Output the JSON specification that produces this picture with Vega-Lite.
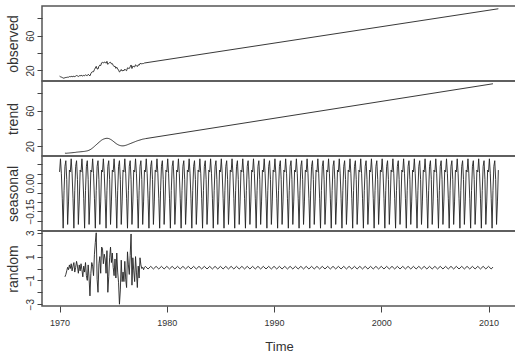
{
"$schema":"https://vega.github.io/schema/vega-lite/v6.json",
"padding":{"left":5,"top":5,"right":0,"bottom":0},
"background":"white",
"spacing":0,
"bounds":"flush",
"config":{
 "view":{"stroke":"#555","strokeWidth":1.5},
 "axis":{"grid":false,"domain":false,"tickColor":"#444","labelColor":"#333","titleColor":"#333","labelFont":"Liberation Sans","titleFont":"Liberation Sans","titleFontWeight":"normal","labelOverlap":false},
 "line":{"color":"#222","strokeWidth":0.9}
},
"datasets":{
"obs":[{"t":1970,"v":13.4},{"t":1970.083,"v":12.7},{"t":1970.167,"v":12.3},{"t":1970.25,"v":11.8},{"t":1970.333,"v":11.2},{"t":1970.417,"v":11.0},{"t":1970.5,"v":11.7},{"t":1970.583,"v":11.8},{"t":1970.667,"v":12.0},{"t":1970.75,"v":12.2},{"t":1970.833,"v":12.2},{"t":1970.917,"v":12.9},
{"t":1971,"v":12.7},{"t":1971.083,"v":13.2},{"t":1971.167,"v":12.7},{"t":1971.25,"v":13.0},{"t":1971.333,"v":13.3},{"t":1971.417,"v":12.8},{"t":1971.5,"v":13.4},{"t":1971.583,"v":14.1},{"t":1971.667,"v":13.7},{"t":1971.75,"v":13.0},{"t":1971.833,"v":13.9},{"t":1971.917,"v":13.7},
{"t":1972,"v":14.4},{"t":1972.083,"v":14.0},{"t":1972.167,"v":13.5},{"t":1972.25,"v":14.3},{"t":1972.333,"v":13.8},{"t":1972.417,"v":15.0},{"t":1972.5,"v":14.2},{"t":1972.583,"v":14.0},{"t":1972.667,"v":15.5},{"t":1972.75,"v":14.6},{"t":1972.833,"v":13.7},{"t":1972.917,"v":16.4},
{"t":1973,"v":18.0},{"t":1973.083,"v":18.5},{"t":1973.167,"v":18.5},{"t":1973.25,"v":21.0},{"t":1973.333,"v":22.8},{"t":1973.417,"v":24.7},{"t":1973.5,"v":21.8},{"t":1973.583,"v":21.6},{"t":1973.667,"v":24.8},{"t":1973.75,"v":26.1},{"t":1973.833,"v":25.6},{"t":1973.917,"v":28.8},
{"t":1974,"v":29.3},{"t":1974.083,"v":28.5},{"t":1974.167,"v":29.7},{"t":1974.25,"v":29.4},{"t":1974.333,"v":28.3},{"t":1974.417,"v":30.5},{"t":1974.5,"v":27.0},{"t":1974.583,"v":28.1},{"t":1974.667,"v":29.2},{"t":1974.75,"v":29.4},{"t":1974.833,"v":27.6},{"t":1974.917,"v":27.9},
{"t":1975,"v":25.9},{"t":1975.083,"v":24.4},{"t":1975.167,"v":25.0},{"t":1975.25,"v":22.4},{"t":1975.333,"v":23.7},{"t":1975.417,"v":21.7},{"t":1975.5,"v":20.4},{"t":1975.583,"v":18.2},{"t":1975.667,"v":19.0},{"t":1975.75,"v":21.1},{"t":1975.833,"v":19.3},{"t":1975.917,"v":20.3},
{"t":1976,"v":19.6},{"t":1976.083,"v":21.5},{"t":1976.167,"v":20.3},{"t":1976.25,"v":19.7},{"t":1976.333,"v":23.0},{"t":1976.417,"v":22.5},{"t":1976.5,"v":22.2},{"t":1976.583,"v":24.2},{"t":1976.667,"v":26.3},{"t":1976.75,"v":22.2},{"t":1976.833,"v":25.0},{"t":1976.917,"v":24.5},
{"t":1977,"v":24.0},{"t":1977.083,"v":26.5},{"t":1977.167,"v":25.6},{"t":1977.25,"v":24.5},{"t":1977.333,"v":26.5},{"t":1977.417,"v":26.0},{"t":1977.5,"v":28.1},{"t":1977.583,"v":27.8},{"t":1977.667,"v":27.7},{"t":1977.75,"v":27.9},{"t":1977.833,"v":28.0},{"t":1977.917,"v":28.6},
{"t":2010.917,"v":91.2}],
"trend":[{"t":1970.5,"v":12.3},{"t":1970.583,"v":12.2},{"t":1970.667,"v":12.2},{"t":1970.75,"v":12.3},{"t":1970.833,"v":12.4},{"t":1970.917,"v":12.5},
{"t":1971,"v":12.6},{"t":1971.083,"v":12.7},{"t":1971.167,"v":12.8},{"t":1971.25,"v":12.9},{"t":1971.333,"v":13.0},{"t":1971.417,"v":13.1},{"t":1971.5,"v":13.2},{"t":1971.583,"v":13.4},{"t":1971.667,"v":13.5},{"t":1971.75,"v":13.6},{"t":1971.833,"v":13.7},{"t":1971.917,"v":13.8},
{"t":1972,"v":13.9},{"t":1972.083,"v":14.0},{"t":1972.167,"v":14.1},{"t":1972.25,"v":14.2},{"t":1972.333,"v":14.3},{"t":1972.417,"v":14.5},{"t":1972.5,"v":14.7},{"t":1972.583,"v":14.9},{"t":1972.667,"v":15.2},{"t":1972.75,"v":15.6},{"t":1972.833,"v":16.1},{"t":1972.917,"v":16.7},
{"t":1973,"v":17.4},{"t":1973.083,"v":18.2},{"t":1973.167,"v":19.0},{"t":1973.25,"v":19.9},{"t":1973.333,"v":20.8},{"t":1973.417,"v":21.7},{"t":1973.5,"v":22.6},{"t":1973.583,"v":23.5},{"t":1973.667,"v":24.4},{"t":1973.75,"v":25.3},{"t":1973.833,"v":26.1},{"t":1973.917,"v":26.9},
{"t":1974,"v":27.5},{"t":1974.083,"v":28.0},{"t":1974.167,"v":28.4},{"t":1974.25,"v":28.7},{"t":1974.333,"v":28.9},{"t":1974.417,"v":29.0},{"t":1974.5,"v":28.9},{"t":1974.583,"v":28.7},{"t":1974.667,"v":28.3},{"t":1974.75,"v":27.8},{"t":1974.833,"v":27.2},{"t":1974.917,"v":26.5},
{"t":1975,"v":25.7},{"t":1975.083,"v":24.9},{"t":1975.167,"v":24.1},{"t":1975.25,"v":23.3},{"t":1975.333,"v":22.6},{"t":1975.417,"v":22.0},{"t":1975.5,"v":21.5},{"t":1975.583,"v":21.1},{"t":1975.667,"v":20.8},{"t":1975.75,"v":20.6},{"t":1975.833,"v":20.5},{"t":1975.917,"v":20.5},
{"t":1976,"v":20.6},{"t":1976.083,"v":20.8},{"t":1976.167,"v":21.1},{"t":1976.25,"v":21.4},{"t":1976.333,"v":21.8},{"t":1976.417,"v":22.2},{"t":1976.5,"v":22.6},{"t":1976.583,"v":23.0},{"t":1976.667,"v":23.4},{"t":1976.75,"v":23.8},{"t":1976.833,"v":24.2},{"t":1976.917,"v":24.6},
{"t":1977,"v":25.0},{"t":1977.083,"v":25.4},{"t":1977.167,"v":25.8},{"t":1977.25,"v":26.2},{"t":1977.333,"v":26.5},{"t":1977.417,"v":26.8},{"t":1977.5,"v":27.1},{"t":1977.583,"v":27.4},{"t":1977.667,"v":27.7},{"t":1977.75,"v":28.0},{"t":1977.833,"v":28.2},{"t":1977.917,"v":28.4},
{"t":1978,"v":28.6},{"t":2010.417,"v":90.3}],
"seas":[
{"t":1970,"v":0.06},{"t":1970.083,"v":0.13},{"t":1970.167,"v":0.05},{"t":1970.25,"v":-0.08},{"t":1970.333,"v":-0.24},{"t":1970.417,"v":-0.04},{"t":1970.5,"v":0.09},{"t":1970.583,"v":0.12},{"t":1970.667,"v":0.02},{"t":1970.75,"v":-0.22},{"t":1970.833,"v":-0.1},{"t":1970.917,"v":0.07},
{"t":1971,"v":0.06},{"t":1971.083,"v":0.13},{"t":1971.167,"v":0.05},{"t":1971.25,"v":-0.08},{"t":1971.333,"v":-0.24},{"t":1971.417,"v":-0.04},{"t":1971.5,"v":0.09},{"t":1971.583,"v":0.12},{"t":1971.667,"v":0.02},{"t":1971.75,"v":-0.22},{"t":1971.833,"v":-0.1},{"t":1971.917,"v":0.07},
{"t":1972,"v":0.06},{"t":1972.083,"v":0.13},{"t":1972.167,"v":0.05},{"t":1972.25,"v":-0.08},{"t":1972.333,"v":-0.24},{"t":1972.417,"v":-0.04},{"t":1972.5,"v":0.09},{"t":1972.583,"v":0.12},{"t":1972.667,"v":0.02},{"t":1972.75,"v":-0.22},{"t":1972.833,"v":-0.1},{"t":1972.917,"v":0.07},
{"t":1973,"v":0.06},{"t":1973.083,"v":0.13},{"t":1973.167,"v":0.05},{"t":1973.25,"v":-0.08},{"t":1973.333,"v":-0.24},{"t":1973.417,"v":-0.04},{"t":1973.5,"v":0.09},{"t":1973.583,"v":0.12},{"t":1973.667,"v":0.02},{"t":1973.75,"v":-0.22},{"t":1973.833,"v":-0.1},{"t":1973.917,"v":0.07},
{"t":1974,"v":0.06},{"t":1974.083,"v":0.13},{"t":1974.167,"v":0.05},{"t":1974.25,"v":-0.08},{"t":1974.333,"v":-0.24},{"t":1974.417,"v":-0.04},{"t":1974.5,"v":0.09},{"t":1974.583,"v":0.12},{"t":1974.667,"v":0.02},{"t":1974.75,"v":-0.22},{"t":1974.833,"v":-0.1},{"t":1974.917,"v":0.07},
{"t":1975,"v":0.06},{"t":1975.083,"v":0.13},{"t":1975.167,"v":0.05},{"t":1975.25,"v":-0.08},{"t":1975.333,"v":-0.24},{"t":1975.417,"v":-0.04},{"t":1975.5,"v":0.09},{"t":1975.583,"v":0.12},{"t":1975.667,"v":0.02},{"t":1975.75,"v":-0.22},{"t":1975.833,"v":-0.1},{"t":1975.917,"v":0.07},
{"t":1976,"v":0.06},{"t":1976.083,"v":0.13},{"t":1976.167,"v":0.05},{"t":1976.25,"v":-0.08},{"t":1976.333,"v":-0.24},{"t":1976.417,"v":-0.04},{"t":1976.5,"v":0.09},{"t":1976.583,"v":0.12},{"t":1976.667,"v":0.02},{"t":1976.75,"v":-0.22},{"t":1976.833,"v":-0.1},{"t":1976.917,"v":0.07},
{"t":1977,"v":0.06},{"t":1977.083,"v":0.13},{"t":1977.167,"v":0.05},{"t":1977.25,"v":-0.08},{"t":1977.333,"v":-0.24},{"t":1977.417,"v":-0.04},{"t":1977.5,"v":0.09},{"t":1977.583,"v":0.12},{"t":1977.667,"v":0.02},{"t":1977.75,"v":-0.22},{"t":1977.833,"v":-0.1},{"t":1977.917,"v":0.07},
{"t":1978,"v":0.06},{"t":1978.083,"v":0.13},{"t":1978.167,"v":0.05},{"t":1978.25,"v":-0.08},{"t":1978.333,"v":-0.24},{"t":1978.417,"v":-0.04},{"t":1978.5,"v":0.09},{"t":1978.583,"v":0.12},{"t":1978.667,"v":0.02},{"t":1978.75,"v":-0.22},{"t":1978.833,"v":-0.1},{"t":1978.917,"v":0.07},
{"t":1979,"v":0.06},{"t":1979.083,"v":0.13},{"t":1979.167,"v":0.05},{"t":1979.25,"v":-0.08},{"t":1979.333,"v":-0.24},{"t":1979.417,"v":-0.04},{"t":1979.5,"v":0.09},{"t":1979.583,"v":0.12},{"t":1979.667,"v":0.02},{"t":1979.75,"v":-0.22},{"t":1979.833,"v":-0.1},{"t":1979.917,"v":0.07},
{"t":1980,"v":0.06},{"t":1980.083,"v":0.13},{"t":1980.167,"v":0.05},{"t":1980.25,"v":-0.08},{"t":1980.333,"v":-0.24},{"t":1980.417,"v":-0.04},{"t":1980.5,"v":0.09},{"t":1980.583,"v":0.12},{"t":1980.667,"v":0.02},{"t":1980.75,"v":-0.22},{"t":1980.833,"v":-0.1},{"t":1980.917,"v":0.07},
{"t":1981,"v":0.06},{"t":1981.083,"v":0.13},{"t":1981.167,"v":0.05},{"t":1981.25,"v":-0.08},{"t":1981.333,"v":-0.24},{"t":1981.417,"v":-0.04},{"t":1981.5,"v":0.09},{"t":1981.583,"v":0.12},{"t":1981.667,"v":0.02},{"t":1981.75,"v":-0.22},{"t":1981.833,"v":-0.1},{"t":1981.917,"v":0.07},
{"t":1982,"v":0.06},{"t":1982.083,"v":0.13},{"t":1982.167,"v":0.05},{"t":1982.25,"v":-0.08},{"t":1982.333,"v":-0.24},{"t":1982.417,"v":-0.04},{"t":1982.5,"v":0.09},{"t":1982.583,"v":0.12},{"t":1982.667,"v":0.02},{"t":1982.75,"v":-0.22},{"t":1982.833,"v":-0.1},{"t":1982.917,"v":0.07},
{"t":1983,"v":0.06},{"t":1983.083,"v":0.13},{"t":1983.167,"v":0.05},{"t":1983.25,"v":-0.08},{"t":1983.333,"v":-0.24},{"t":1983.417,"v":-0.04},{"t":1983.5,"v":0.09},{"t":1983.583,"v":0.12},{"t":1983.667,"v":0.02},{"t":1983.75,"v":-0.22},{"t":1983.833,"v":-0.1},{"t":1983.917,"v":0.07},
{"t":1984,"v":0.06},{"t":1984.083,"v":0.13},{"t":1984.167,"v":0.05},{"t":1984.25,"v":-0.08},{"t":1984.333,"v":-0.24},{"t":1984.417,"v":-0.04},{"t":1984.5,"v":0.09},{"t":1984.583,"v":0.12},{"t":1984.667,"v":0.02},{"t":1984.75,"v":-0.22},{"t":1984.833,"v":-0.1},{"t":1984.917,"v":0.07},
{"t":1985,"v":0.06},{"t":1985.083,"v":0.13},{"t":1985.167,"v":0.05},{"t":1985.25,"v":-0.08},{"t":1985.333,"v":-0.24},{"t":1985.417,"v":-0.04},{"t":1985.5,"v":0.09},{"t":1985.583,"v":0.12},{"t":1985.667,"v":0.02},{"t":1985.75,"v":-0.22},{"t":1985.833,"v":-0.1},{"t":1985.917,"v":0.07},
{"t":1986,"v":0.06},{"t":1986.083,"v":0.13},{"t":1986.167,"v":0.05},{"t":1986.25,"v":-0.08},{"t":1986.333,"v":-0.24},{"t":1986.417,"v":-0.04},{"t":1986.5,"v":0.09},{"t":1986.583,"v":0.12},{"t":1986.667,"v":0.02},{"t":1986.75,"v":-0.22},{"t":1986.833,"v":-0.1},{"t":1986.917,"v":0.07},
{"t":1987,"v":0.06},{"t":1987.083,"v":0.13},{"t":1987.167,"v":0.05},{"t":1987.25,"v":-0.08},{"t":1987.333,"v":-0.24},{"t":1987.417,"v":-0.04},{"t":1987.5,"v":0.09},{"t":1987.583,"v":0.12},{"t":1987.667,"v":0.02},{"t":1987.75,"v":-0.22},{"t":1987.833,"v":-0.1},{"t":1987.917,"v":0.07},
{"t":1988,"v":0.06},{"t":1988.083,"v":0.13},{"t":1988.167,"v":0.05},{"t":1988.25,"v":-0.08},{"t":1988.333,"v":-0.24},{"t":1988.417,"v":-0.04},{"t":1988.5,"v":0.09},{"t":1988.583,"v":0.12},{"t":1988.667,"v":0.02},{"t":1988.75,"v":-0.22},{"t":1988.833,"v":-0.1},{"t":1988.917,"v":0.07},
{"t":1989,"v":0.06},{"t":1989.083,"v":0.13},{"t":1989.167,"v":0.05},{"t":1989.25,"v":-0.08},{"t":1989.333,"v":-0.24},{"t":1989.417,"v":-0.04},{"t":1989.5,"v":0.09},{"t":1989.583,"v":0.12},{"t":1989.667,"v":0.02},{"t":1989.75,"v":-0.22},{"t":1989.833,"v":-0.1},{"t":1989.917,"v":0.07},
{"t":1990,"v":0.06},{"t":1990.083,"v":0.13},{"t":1990.167,"v":0.05},{"t":1990.25,"v":-0.08},{"t":1990.333,"v":-0.24},{"t":1990.417,"v":-0.04},{"t":1990.5,"v":0.09},{"t":1990.583,"v":0.12},{"t":1990.667,"v":0.02},{"t":1990.75,"v":-0.22},{"t":1990.833,"v":-0.1},{"t":1990.917,"v":0.07},
{"t":1991,"v":0.06},{"t":1991.083,"v":0.13},{"t":1991.167,"v":0.05},{"t":1991.25,"v":-0.08},{"t":1991.333,"v":-0.24},{"t":1991.417,"v":-0.04},{"t":1991.5,"v":0.09},{"t":1991.583,"v":0.12},{"t":1991.667,"v":0.02},{"t":1991.75,"v":-0.22},{"t":1991.833,"v":-0.1},{"t":1991.917,"v":0.07},
{"t":1992,"v":0.06},{"t":1992.083,"v":0.13},{"t":1992.167,"v":0.05},{"t":1992.25,"v":-0.08},{"t":1992.333,"v":-0.24},{"t":1992.417,"v":-0.04},{"t":1992.5,"v":0.09},{"t":1992.583,"v":0.12},{"t":1992.667,"v":0.02},{"t":1992.75,"v":-0.22},{"t":1992.833,"v":-0.1},{"t":1992.917,"v":0.07},
{"t":1993,"v":0.06},{"t":1993.083,"v":0.13},{"t":1993.167,"v":0.05},{"t":1993.25,"v":-0.08},{"t":1993.333,"v":-0.24},{"t":1993.417,"v":-0.04},{"t":1993.5,"v":0.09},{"t":1993.583,"v":0.12},{"t":1993.667,"v":0.02},{"t":1993.75,"v":-0.22},{"t":1993.833,"v":-0.1},{"t":1993.917,"v":0.07},
{"t":1994,"v":0.06},{"t":1994.083,"v":0.13},{"t":1994.167,"v":0.05},{"t":1994.25,"v":-0.08},{"t":1994.333,"v":-0.24},{"t":1994.417,"v":-0.04},{"t":1994.5,"v":0.09},{"t":1994.583,"v":0.12},{"t":1994.667,"v":0.02},{"t":1994.75,"v":-0.22},{"t":1994.833,"v":-0.1},{"t":1994.917,"v":0.07},
{"t":1995,"v":0.06},{"t":1995.083,"v":0.13},{"t":1995.167,"v":0.05},{"t":1995.25,"v":-0.08},{"t":1995.333,"v":-0.24},{"t":1995.417,"v":-0.04},{"t":1995.5,"v":0.09},{"t":1995.583,"v":0.12},{"t":1995.667,"v":0.02},{"t":1995.75,"v":-0.22},{"t":1995.833,"v":-0.1},{"t":1995.917,"v":0.07},
{"t":1996,"v":0.06},{"t":1996.083,"v":0.13},{"t":1996.167,"v":0.05},{"t":1996.25,"v":-0.08},{"t":1996.333,"v":-0.24},{"t":1996.417,"v":-0.04},{"t":1996.5,"v":0.09},{"t":1996.583,"v":0.12},{"t":1996.667,"v":0.02},{"t":1996.75,"v":-0.22},{"t":1996.833,"v":-0.1},{"t":1996.917,"v":0.07},
{"t":1997,"v":0.06},{"t":1997.083,"v":0.13},{"t":1997.167,"v":0.05},{"t":1997.25,"v":-0.08},{"t":1997.333,"v":-0.24},{"t":1997.417,"v":-0.04},{"t":1997.5,"v":0.09},{"t":1997.583,"v":0.12},{"t":1997.667,"v":0.02},{"t":1997.75,"v":-0.22},{"t":1997.833,"v":-0.1},{"t":1997.917,"v":0.07},
{"t":1998,"v":0.06},{"t":1998.083,"v":0.13},{"t":1998.167,"v":0.05},{"t":1998.25,"v":-0.08},{"t":1998.333,"v":-0.24},{"t":1998.417,"v":-0.04},{"t":1998.5,"v":0.09},{"t":1998.583,"v":0.12},{"t":1998.667,"v":0.02},{"t":1998.75,"v":-0.22},{"t":1998.833,"v":-0.1},{"t":1998.917,"v":0.07},
{"t":1999,"v":0.06},{"t":1999.083,"v":0.13},{"t":1999.167,"v":0.05},{"t":1999.25,"v":-0.08},{"t":1999.333,"v":-0.24},{"t":1999.417,"v":-0.04},{"t":1999.5,"v":0.09},{"t":1999.583,"v":0.12},{"t":1999.667,"v":0.02},{"t":1999.75,"v":-0.22},{"t":1999.833,"v":-0.1},{"t":1999.917,"v":0.07},
{"t":2000,"v":0.06},{"t":2000.083,"v":0.13},{"t":2000.167,"v":0.05},{"t":2000.25,"v":-0.08},{"t":2000.333,"v":-0.24},{"t":2000.417,"v":-0.04},{"t":2000.5,"v":0.09},{"t":2000.583,"v":0.12},{"t":2000.667,"v":0.02},{"t":2000.75,"v":-0.22},{"t":2000.833,"v":-0.1},{"t":2000.917,"v":0.07},
{"t":2001,"v":0.06},{"t":2001.083,"v":0.13},{"t":2001.167,"v":0.05},{"t":2001.25,"v":-0.08},{"t":2001.333,"v":-0.24},{"t":2001.417,"v":-0.04},{"t":2001.5,"v":0.09},{"t":2001.583,"v":0.12},{"t":2001.667,"v":0.02},{"t":2001.75,"v":-0.22},{"t":2001.833,"v":-0.1},{"t":2001.917,"v":0.07},
{"t":2002,"v":0.06},{"t":2002.083,"v":0.13},{"t":2002.167,"v":0.05},{"t":2002.25,"v":-0.08},{"t":2002.333,"v":-0.24},{"t":2002.417,"v":-0.04},{"t":2002.5,"v":0.09},{"t":2002.583,"v":0.12},{"t":2002.667,"v":0.02},{"t":2002.75,"v":-0.22},{"t":2002.833,"v":-0.1},{"t":2002.917,"v":0.07},
{"t":2003,"v":0.06},{"t":2003.083,"v":0.13},{"t":2003.167,"v":0.05},{"t":2003.25,"v":-0.08},{"t":2003.333,"v":-0.24},{"t":2003.417,"v":-0.04},{"t":2003.5,"v":0.09},{"t":2003.583,"v":0.12},{"t":2003.667,"v":0.02},{"t":2003.75,"v":-0.22},{"t":2003.833,"v":-0.1},{"t":2003.917,"v":0.07},
{"t":2004,"v":0.06},{"t":2004.083,"v":0.13},{"t":2004.167,"v":0.05},{"t":2004.25,"v":-0.08},{"t":2004.333,"v":-0.24},{"t":2004.417,"v":-0.04},{"t":2004.5,"v":0.09},{"t":2004.583,"v":0.12},{"t":2004.667,"v":0.02},{"t":2004.75,"v":-0.22},{"t":2004.833,"v":-0.1},{"t":2004.917,"v":0.07},
{"t":2005,"v":0.06},{"t":2005.083,"v":0.13},{"t":2005.167,"v":0.05},{"t":2005.25,"v":-0.08},{"t":2005.333,"v":-0.24},{"t":2005.417,"v":-0.04},{"t":2005.5,"v":0.09},{"t":2005.583,"v":0.12},{"t":2005.667,"v":0.02},{"t":2005.75,"v":-0.22},{"t":2005.833,"v":-0.1},{"t":2005.917,"v":0.07},
{"t":2006,"v":0.06},{"t":2006.083,"v":0.13},{"t":2006.167,"v":0.05},{"t":2006.25,"v":-0.08},{"t":2006.333,"v":-0.24},{"t":2006.417,"v":-0.04},{"t":2006.5,"v":0.09},{"t":2006.583,"v":0.12},{"t":2006.667,"v":0.02},{"t":2006.75,"v":-0.22},{"t":2006.833,"v":-0.1},{"t":2006.917,"v":0.07},
{"t":2007,"v":0.06},{"t":2007.083,"v":0.13},{"t":2007.167,"v":0.05},{"t":2007.25,"v":-0.08},{"t":2007.333,"v":-0.24},{"t":2007.417,"v":-0.04},{"t":2007.5,"v":0.09},{"t":2007.583,"v":0.12},{"t":2007.667,"v":0.02},{"t":2007.75,"v":-0.22},{"t":2007.833,"v":-0.1},{"t":2007.917,"v":0.07},
{"t":2008,"v":0.06},{"t":2008.083,"v":0.13},{"t":2008.167,"v":0.05},{"t":2008.25,"v":-0.08},{"t":2008.333,"v":-0.24},{"t":2008.417,"v":-0.04},{"t":2008.5,"v":0.09},{"t":2008.583,"v":0.12},{"t":2008.667,"v":0.02},{"t":2008.75,"v":-0.22},{"t":2008.833,"v":-0.1},{"t":2008.917,"v":0.07},
{"t":2009,"v":0.06},{"t":2009.083,"v":0.13},{"t":2009.167,"v":0.05},{"t":2009.25,"v":-0.08},{"t":2009.333,"v":-0.24},{"t":2009.417,"v":-0.04},{"t":2009.5,"v":0.09},{"t":2009.583,"v":0.12},{"t":2009.667,"v":0.02},{"t":2009.75,"v":-0.22},{"t":2009.833,"v":-0.1},{"t":2009.917,"v":0.07},
{"t":2010,"v":0.06},{"t":2010.083,"v":0.13},{"t":2010.167,"v":0.05},{"t":2010.25,"v":-0.08},{"t":2010.333,"v":-0.24},{"t":2010.417,"v":-0.04},{"t":2010.5,"v":0.09},{"t":2010.583,"v":0.12},{"t":2010.667,"v":0.02},{"t":2010.75,"v":-0.22},{"t":2010.833,"v":-0.1},{"t":2010.917,"v":0.07}],
"rand":[{"t":1970.5,"v":-0.7},{"t":1970.583,"v":-0.5},{"t":1970.667,"v":-0.2},{"t":1970.75,"v":0.1},{"t":1970.833,"v":-0.1},{"t":1970.917,"v":0.3},
{"t":1971,"v":0.0},{"t":1971.083,"v":0.4},{"t":1971.167,"v":-0.2},{"t":1971.25,"v":0.2},{"t":1971.333,"v":0.5},{"t":1971.417,"v":-0.3},{"t":1971.5,"v":0.1},{"t":1971.583,"v":0.6},{"t":1971.667,"v":0.2},{"t":1971.75,"v":-0.4},{"t":1971.833,"v":0.3},{"t":1971.917,"v":-0.2},
{"t":1972,"v":0.4},{"t":1972.083,"v":-0.1},{"t":1972.167,"v":-0.7},{"t":1972.25,"v":0.2},{"t":1972.333,"v":-0.3},{"t":1972.417,"v":0.5},{"t":1972.5,"v":-0.6},{"t":1972.583,"v":-1.0},{"t":1972.667,"v":0.3},{"t":1972.75,"v":-0.8},{"t":1972.833,"v":-2.3},{"t":1972.917,"v":-0.4},
{"t":1973,"v":0.5},{"t":1973.083,"v":0.2},{"t":1973.167,"v":-0.6},{"t":1973.25,"v":1.2},{"t":1973.333,"v":2.2},{"t":1973.417,"v":3.0},{"t":1973.5,"v":-0.9},{"t":1973.583,"v":-2.0},{"t":1973.667,"v":0.4},{"t":1973.75,"v":1.0},{"t":1973.833,"v":-0.4},{"t":1973.917,"v":1.8},
{"t":1974,"v":1.7},{"t":1974.083,"v":0.4},{"t":1974.167,"v":1.2},{"t":1974.25,"v":0.8},{"t":1974.333,"v":-0.4},{"t":1974.417,"v":1.5},{"t":1974.5,"v":-2.0},{"t":1974.583,"v":-0.7},{"t":1974.667,"v":0.9},{"t":1974.75,"v":1.8},{"t":1974.833,"v":0.5},{"t":1974.917,"v":1.3},
{"t":1975,"v":0.1},{"t":1975.083,"v":-0.6},{"t":1975.167,"v":0.8},{"t":1975.25,"v":-0.8},{"t":1975.333,"v":1.3},{"t":1975.417,"v":-0.3},{"t":1975.5,"v":-1.2},{"t":1975.583,"v":-3.0},{"t":1975.667,"v":-1.8},{"t":1975.75,"v":0.7},{"t":1975.833,"v":-1.1},{"t":1975.917,"v":-0.3},
{"t":1976,"v":-1.1},{"t":1976.083,"v":0.6},{"t":1976.167,"v":-0.9},{"t":1976.25,"v":-1.6},{"t":1976.333,"v":1.4},{"t":1976.417,"v":0.3},{"t":1976.5,"v":-0.5},{"t":1976.583,"v":1.1},{"t":1976.667,"v":2.9},{"t":1976.75,"v":-1.4},{"t":1976.833,"v":0.9},{"t":1976.917,"v":-0.2},
{"t":1977,"v":-1.1},{"t":1977.083,"v":1.0},{"t":1977.167,"v":-0.3},{"t":1977.25,"v":-1.6},{"t":1977.333,"v":0.2},{"t":1977.417,"v":-0.8},{"t":1977.5,"v":0.9},{"t":1977.583,"v":0.3},{"t":1977.667,"v":0.0},{"t":1977.75,"v":0.1},{"t":1977.833,"v":-0.1},{"t":1977.917,"v":0.1},
{"t":1978,"v":0.18},{"t":1978.25,"v":-0.04},{"t":1978.5,"v":0.18},{"t":1978.75,"v":-0.04},{"t":1979,"v":0.18},{"t":1979.25,"v":-0.04},{"t":1979.5,"v":0.18},{"t":1979.75,"v":-0.04},
{"t":1980,"v":0.18},{"t":1980.25,"v":-0.04},{"t":1980.5,"v":0.18},{"t":1980.75,"v":-0.04},{"t":1981,"v":0.18},{"t":1981.25,"v":-0.04},{"t":1981.5,"v":0.18},{"t":1981.75,"v":-0.04},
{"t":1982,"v":0.18},{"t":1982.25,"v":-0.04},{"t":1982.5,"v":0.18},{"t":1982.75,"v":-0.04},{"t":1983,"v":0.18},{"t":1983.25,"v":-0.04},{"t":1983.5,"v":0.18},{"t":1983.75,"v":-0.04},
{"t":1984,"v":0.18},{"t":1984.25,"v":-0.04},{"t":1984.5,"v":0.18},{"t":1984.75,"v":-0.04},{"t":1985,"v":0.18},{"t":1985.25,"v":-0.04},{"t":1985.5,"v":0.18},{"t":1985.75,"v":-0.04},
{"t":1986,"v":0.18},{"t":1986.25,"v":-0.04},{"t":1986.5,"v":0.18},{"t":1986.75,"v":-0.04},{"t":1987,"v":0.18},{"t":1987.25,"v":-0.04},{"t":1987.5,"v":0.18},{"t":1987.75,"v":-0.04},
{"t":1988,"v":0.18},{"t":1988.25,"v":-0.04},{"t":1988.5,"v":0.18},{"t":1988.75,"v":-0.04},{"t":1989,"v":0.18},{"t":1989.25,"v":-0.04},{"t":1989.5,"v":0.18},{"t":1989.75,"v":-0.04},
{"t":1990,"v":0.18},{"t":1990.25,"v":-0.04},{"t":1990.5,"v":0.18},{"t":1990.75,"v":-0.04},{"t":1991,"v":0.18},{"t":1991.25,"v":-0.04},{"t":1991.5,"v":0.18},{"t":1991.75,"v":-0.04},
{"t":1992,"v":0.18},{"t":1992.25,"v":-0.04},{"t":1992.5,"v":0.18},{"t":1992.75,"v":-0.04},{"t":1993,"v":0.18},{"t":1993.25,"v":-0.04},{"t":1993.5,"v":0.18},{"t":1993.75,"v":-0.04},
{"t":1994,"v":0.18},{"t":1994.25,"v":-0.04},{"t":1994.5,"v":0.18},{"t":1994.75,"v":-0.04},{"t":1995,"v":0.18},{"t":1995.25,"v":-0.04},{"t":1995.5,"v":0.18},{"t":1995.75,"v":-0.04},
{"t":1996,"v":0.18},{"t":1996.25,"v":-0.04},{"t":1996.5,"v":0.18},{"t":1996.75,"v":-0.04},{"t":1997,"v":0.18},{"t":1997.25,"v":-0.04},{"t":1997.5,"v":0.18},{"t":1997.75,"v":-0.04},
{"t":1998,"v":0.18},{"t":1998.25,"v":-0.04},{"t":1998.5,"v":0.18},{"t":1998.75,"v":-0.04},{"t":1999,"v":0.18},{"t":1999.25,"v":-0.04},{"t":1999.5,"v":0.18},{"t":1999.75,"v":-0.04},
{"t":2000,"v":0.18},{"t":2000.25,"v":-0.04},{"t":2000.5,"v":0.18},{"t":2000.75,"v":-0.04},{"t":2001,"v":0.18},{"t":2001.25,"v":-0.04},{"t":2001.5,"v":0.18},{"t":2001.75,"v":-0.04},
{"t":2002,"v":0.18},{"t":2002.25,"v":-0.04},{"t":2002.5,"v":0.18},{"t":2002.75,"v":-0.04},{"t":2003,"v":0.18},{"t":2003.25,"v":-0.04},{"t":2003.5,"v":0.18},{"t":2003.75,"v":-0.04},
{"t":2004,"v":0.18},{"t":2004.25,"v":-0.04},{"t":2004.5,"v":0.18},{"t":2004.75,"v":-0.04},{"t":2005,"v":0.18},{"t":2005.25,"v":-0.04},{"t":2005.5,"v":0.18},{"t":2005.75,"v":-0.04},
{"t":2006,"v":0.18},{"t":2006.25,"v":-0.04},{"t":2006.5,"v":0.18},{"t":2006.75,"v":-0.04},{"t":2007,"v":0.18},{"t":2007.25,"v":-0.04},{"t":2007.5,"v":0.18},{"t":2007.75,"v":-0.04},
{"t":2008,"v":0.18},{"t":2008.25,"v":-0.04},{"t":2008.5,"v":0.18},{"t":2008.75,"v":-0.04},{"t":2009,"v":0.18},{"t":2009.25,"v":-0.04},{"t":2009.5,"v":0.18},{"t":2009.75,"v":-0.04},
{"t":2010,"v":0.18},{"t":2010.25,"v":-0.04},{"t":2010.417,"v":0.12}]
},
"vconcat":[
{"width":476,"height":75,"data":{"name":"obs"},"mark":"line",
 "encoding":{
  "x":{"field":"t","type":"quantitative","scale":{"domain":[1968.36,2012.75],"nice":false,"zero":false},"axis":null},
  "y":{"field":"v","type":"quantitative","scale":{"domain":[7.8,94.4],"nice":false,"zero":false},
   "axis":{"title":"observed","values":[20,40,60,80],"labelExpr":"datum.value==20||datum.value==60?datum.label:''","tickSize":5,"labelAngle":-90,"labelAlign":"center","labelBaseline":"bottom","labelPadding":2,"labelFontSize":10,"titleAngle":270,"titleX":-29,"titleY":37.5,"titleAlign":"center","titleBaseline":"middle","titleFontSize":14}}}},
{"width":476,"height":75,"data":{"name":"trend"},"mark":"line",
 "encoding":{
  "x":{"field":"t","type":"quantitative","scale":{"domain":[1968.36,2012.75],"nice":false,"zero":false},"axis":null},
  "y":{"field":"v","type":"quantitative","scale":{"domain":[9.1,93.4],"nice":false,"zero":false},
   "axis":{"title":"trend","values":[20,40,60,80],"labelExpr":"datum.value==20||datum.value==60?datum.label:''","tickSize":5,"labelAngle":-90,"labelAlign":"center","labelBaseline":"bottom","labelPadding":2,"labelFontSize":10,"titleAngle":270,"titleX":-29,"titleY":37.5,"titleAlign":"center","titleBaseline":"middle","titleFontSize":14}}}},
{"width":476,"height":75,"data":{"name":"seas"},"mark":"line",
 "encoding":{
  "x":{"field":"t","type":"quantitative","scale":{"domain":[1968.36,2012.75],"nice":false,"zero":false},"axis":null},
  "y":{"field":"v","type":"quantitative","scale":{"domain":[-0.255,0.145],"nice":false,"zero":false},
   "axis":{"title":"seasonal","values":[-0.25,-0.2,-0.15,-0.1,-0.05,0,0.05,0.1],"format":".2f","labelExpr":"datum.value==0||datum.value==-0.15?datum.label:''","tickSize":5,"labelAngle":-90,"labelAlign":"center","labelBaseline":"bottom","labelPadding":2,"labelFontSize":10,"titleAngle":270,"titleX":-29,"titleY":37.5,"titleAlign":"center","titleBaseline":"middle","titleFontSize":14}}}},
{"width":476,"height":75,"data":{"name":"rand"},"mark":"line",
 "encoding":{
  "x":{"field":"t","type":"quantitative","scale":{"domain":[1968.36,2012.75],"nice":false,"zero":false},
   "axis":{"title":"Time","values":[1970,1980,1990,2000,2010],"format":"d","tickSize":6,"labelPadding":6,"labelFont":"Liberation Sans","labelFontSize":9,"titleFont":"Liberation Sans","titleFontSize":13,"titleX":237,"titleY":40,"titleBaseline":"middle"}},
  "y":{"field":"v","type":"quantitative","scale":{"domain":[-3.15,3.15],"nice":false,"zero":false},
   "axis":{"title":"random","values":[-3,-2,-1,0,1,2,3],"labelExpr":"datum.value==-3||datum.value==-1||datum.value==1||datum.value==3?datum.label:''","tickSize":5,"labelAngle":-90,"labelAlign":"center","labelBaseline":"bottom","labelPadding":2,"labelFontSize":10,"titleAngle":270,"titleX":-29,"titleY":37.5,"titleAlign":"center","titleBaseline":"middle","titleFontSize":14}}}}
]
}
